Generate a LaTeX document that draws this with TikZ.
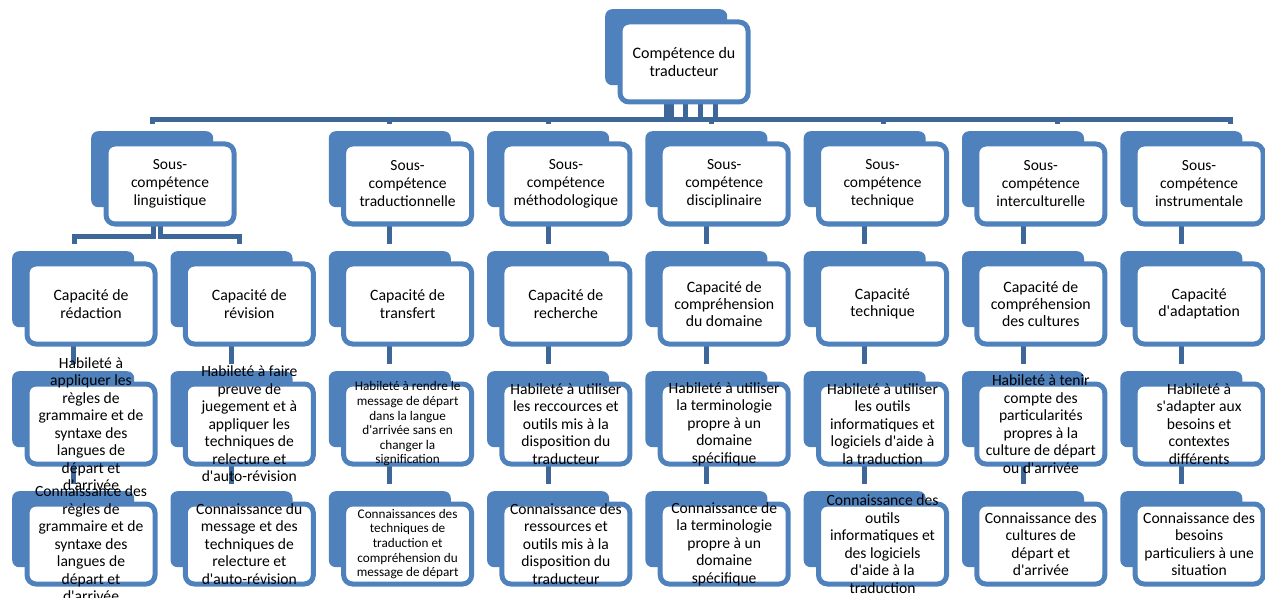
\documentclass[tikz,border=0pt]{standalone}
\usepackage{fontspec}
\newfontfamily\carl{Carlito}
\usetikzlibrary{backgrounds}
\definecolor{boxblue}{RGB}{79,129,189}
\definecolor{linkblue}{RGB}{62,103,153}
\tikzset{
  backbox/.style={fill=boxblue, draw=none, rounded corners=7bp, minimum width=122bp, minimum height=76bp, inner sep=0pt, anchor=north west},
  frontbox/.style={fill=white, draw=boxblue, line width=5bp, rounded corners=9bp, minimum width=128bp, minimum height=80bp, inner sep=0pt, anchor=north west},
  lbltop/.style={align=center, inner sep=0pt, font=\carl\fontsize{16bp}{18bp}\selectfont},
  lblone/.style={align=center, inner sep=0pt, font=\carl\fontsize{15.5bp}{18bp}\selectfont},
  lbltwo/.style={align=center, inner sep=0pt, font=\carl\fontsize{15.8bp}{17.2bp}\selectfont},
  lbl/.style={align=center, inner sep=0pt, font=\carl\fontsize{15.6bp}{17.5bp}\selectfont},
  lblsmall/.style={align=center, inner sep=0pt, font=\carl\fontsize{13.2bp}{14.6bp}\selectfont},
  conn/.style={draw=linkblue, line width=5bp},
}
\newcommand\smbox[5]{%
  \node[backbox] (#1-b) at (#2, #3-8) {};
  \node[frontbox] (#1-f) at (#2+12.5, #3+2.5) {};
  \node[#4] (#1) at (#1-f.center) {#5};
}
\begin{document}
\begin{tikzpicture}[x=1bp,y=-1bp]
\useasboundingbox (0,0) rectangle (1265,598);
% top
\smbox{top}{605}{17}{lbltop}{Compétence du\\traducteur}
% level 1
\smbox{s1}{91}{139}{lblone}{Sous-\\compétence\\linguistique}
\smbox{s2}{12+158.3*2}{139}{lblone}{Sous-\\compétence\\traductionnelle}
\smbox{s3}{12+158.3*3}{139}{lblone}{Sous-\\compétence\\méthodologique}
\smbox{s4}{12+158.3*4}{139}{lblone}{Sous-\\compétence\\disciplinaire}
\smbox{s5}{12+158.3*5}{139}{lblone}{Sous-\\compétence\\technique}
\smbox{s6}{12+158.3*6}{139}{lblone}{Sous-\\compétence\\interculturelle}
\smbox{s7}{12+158.3*7}{139}{lblone}{Sous-\\compétence\\instrumentale}
% level 2
\smbox{c1}{12}{259}{lbltwo}{Capacité de\\rédaction}
\smbox{c2}{12+158.3}{259}{lbltwo}{Capacité de\\révision}
\smbox{c3}{12+158.3*2}{259}{lbltwo}{Capacité de\\transfert}
\smbox{c4}{12+158.3*3}{259}{lbltwo}{Capacité de\\recherche}
\smbox{c5}{12+158.3*4}{259}{lbltwo}{Capacité de\\compréhension\\du domaine}
\smbox{c6}{12+158.3*5}{259}{lbltwo}{Capacité\\technique}
\smbox{c7}{12+158.3*6}{259}{lbltwo}{Capacité de\\compréhension\\des cultures}
\smbox{c8}{12+158.3*7}{259}{lbltwo}{Capacité\\d'adaptation}
% level 3
\smbox{h1}{12}{379}{lbl}{Habileté à\\appliquer les\\règles de\\grammaire et de\\syntaxe des\\langues de\\départ et\\d'arrivée}
\smbox{h2}{12+158.3}{379}{lbl}{Habileté à faire\\preuve de\\juegement et à\\appliquer les\\techniques de\\relecture et\\d'auto-révision}
\smbox{h3}{12+158.3*2}{379}{lblsmall}{Habileté à rendre le\\message de départ\\dans la langue\\d'arrivée sans en\\changer la\\signification}
\smbox{h4}{12+158.3*3}{379}{lbl}{Habileté à utiliser\\les reccources et\\outils mis à la\\disposition du\\traducteur}
\smbox{h5}{12+158.3*4}{379}{lbl}{Habileté à utiliser\\la terminologie\\propre à un\\domaine\\spécifique}
\smbox{h6}{12+158.3*5}{379}{lbl}{Habileté à utiliser\\les outils\\informatiques et\\logiciels d'aide à\\la traduction}
\smbox{h7}{12+158.3*6}{379}{lbl}{Habileté à tenir\\compte des\\particularités\\propres à la\\culture de départ\\ou d'arrivée}
\smbox{h8}{12+158.3*7}{379}{lbl}{Habileté à\\s'adapter aux\\besoins et\\contextes\\différents}
% level 4
\smbox{k1}{12}{499}{lbl}{Connaissance des\\règles de\\grammaire et de\\syntaxe des\\langues de\\départ et\\d'arrivée}
\smbox{k2}{12+158.3}{499}{lbl}{Connaissance du\\message et des\\techniques de\\relecture et\\d'auto-révision}
\smbox{k3}{12+158.3*2}{499}{lblsmall}{Connaissances des\\techniques de\\traduction et\\compréhension du\\message de départ}
\smbox{k4}{12+158.3*3}{499}{lbl}{Connaissance des\\ressources et\\outils mis à la\\disposition du\\traducteur}
\smbox{k5}{12+158.3*4}{499}{lbl}{Connaissance de\\la terminologie\\propre à un\\domaine\\spécifique}
\smbox{k6}{12+158.3*5}{499}{lbl}{Connaissance des\\outils\\informatiques et\\des logiciels\\d'aide à la\\traduction}
\smbox{k7}{12+158.3*6}{499}{lbl}{Connaissance des\\cultures de\\départ et\\d'arrivée}
\smbox{k8}{12+158.3*7}{499}{lbl}{Connaissance des\\besoins\\particuliers à une\\situation}
% connectors
\begin{scope}[on background layer]
\coordinate (busA) at (0,120);
\coordinate (busB) at (0,237);
\foreach \cc/\dd in {s1/0,s2/0,s3/0,s4/5,s5/19,s6/34,s7/49}{
  \draw[conn] ([xshift=\dd bp]top-b.center) -- ([xshift=\dd bp]top-b.center |- busA)
    -- ([xshift=\dd bp]\cc-b.center |- busA) -- ([xshift=\dd bp,yshift=7bp]\cc-b.north);
}
\foreach \cc/\dd in {c1/1,c2/8}{
  \draw[conn] ([xshift=\dd bp]s1-b.center) -- ([xshift=\dd bp]s1-b.center |- busB)
    -- ([xshift=\dd bp]\cc-b.center |- busB) -- ([xshift=\dd bp,yshift=7bp]\cc-b.north);
}
\foreach \pp/\cc in {s2/c3,s3/c4,s4/c5,s5/c6,s6/c7,s7/c8,
                     c1/h1,c2/h2,c3/h3,c4/h4,c5/h5,c6/h6,c7/h7,c8/h8,
                     h1/k1,h2/k2,h3/k3,h4/k4,h5/k5,h6/k6,h7/k7,h8/k8}{
  \draw[conn] (\pp-b.center) -- ([yshift=7bp]\cc-b.north);
}
\end{scope}
\end{tikzpicture}
\end{document}
